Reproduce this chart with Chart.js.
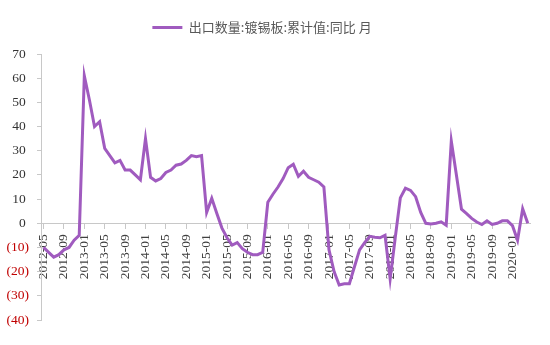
<!DOCTYPE html>
<html>
<head>
<meta charset="utf-8">
<script src="https://cdn.jsdelivr.net/npm/chart.js@4"></script>
<style>
  html, body { margin: 0; padding: 0; background: #fff; }
  #wrap { width: 550px; height: 345px; }
</style>
</head>
<body>
<div id="wrap"><canvas id="myChart"></canvas></div>
<script>
// monthly, 2012-05 .. 2020-04
const months = [];
for (let y = 2012; y <= 2020; y++) {
  for (let m = 1; m <= 12; m++) {
    if (y === 2012 && m < 5) continue;
    if (y === 2020 && m > 4) continue;
    months.push(y + '-' + String(m).padStart(2, '0'));
  }
}

const seriesName = '出口数量:镀锡板:累计值:同比 月';

const yoy2012 = [-10, -12, -14, -13, -11, -10, -7, -5];
const yoy2013 = [61, 51, 40, 42, 31, 28, 25, 26, 22, 22, 20, 18];
const yoy2014 = [35, 19, 17.5, 18.5, 21, 22, 24, 24.5, 26, 28, 27.5, 28];
const yoy2015 = [4.5, 10.3, 4, -2, -6, -9, -8, -10.5, -12, -13, -13, -12];
const yoy2016 = [8.7, 12, 15, 18.5, 23, 24.4, 19.4, 21.5, 19, 18, 17, 15];
const yoy2017 = [-11, -20, -25.5, -25, -25, -18, -11, -8, -5.4, -5.8, -6, -5];
const yoy2018 = [-23, -6, 10.5, 14.5, 13.6, 11, 4.5, 0, -0.3, 0, 0.6, -0.8];
const yoy2019 = [34, 20, 5.8, 4, 2, 0.5, -0.5, 1, -0.5, 0, 1, 1];
const yoy2020 = [-1, -7, 6, 0];

const values = [].concat(yoy2012, yoy2013, yoy2014, yoy2015, yoy2016,
  yoy2017, yoy2018, yoy2019, yoy2020);

const yTicks = [70, 60, 50, 40, 30, 20, 10, 0, -10, -20, -30, -40];

const purple = '#a05bbf';
const serif = "'Liberation Serif', 'Times New Roman', serif";

// extra room under the legend, and nudge it a bit to the left
const legendGap = {
  id: 'legendGap',
  beforeUpdate(chart) {
    const lg = chart.legend;
    if (lg && !lg._gapPatched) {
      const fit = lg.fit;
      lg.fit = function () {
        fit.call(this);
        this.height += 10;
      };
      lg._gapPatched = true;
    }
  },
  afterLayout(chart) {
    const lg = chart.legend;
    if (lg) {
      lg.left -= 12;
      lg.right -= 12;
    }
  },
};

const ctx = document.getElementById('myChart').getContext('2d');
const myChart = new Chart(ctx, {
  type: 'line',
  data: {
    labels: months,
    datasets: [
      {
        label: seriesName,
        data: values,
        borderColor: purple,
        backgroundColor: purple,
        borderWidth: 3,
        pointRadius: 0,
        tension: 0,
      },
    ],
  },
  plugins: [legendGap],
  options: {
    responsive: true,
    maintainAspectRatio: false,
    animation: false,
    layout: {
      padding: { top: 8, left: 6, right: 8, bottom: 25 },
    },
    plugins: {
      legend: {
        position: 'top',
        labels: {
          boxWidth: 30,
          boxHeight: 3,
          padding: 13,
          color: '#595959',
          font: { family: "'Noto Sans CJK SC', sans-serif", size: 13 },
          generateLabels(chart) {
            const items = Chart.defaults.plugins.legend.labels.generateLabels(chart);
            items.forEach((it) => {
              it.lineWidth = 0;
              it.fillStyle = purple;
            });
            return items;
          },
        },
      },
      tooltip: { enabled: false },
    },
    scales: {
      x: {
        position: { y: 0 },
        offset: true,
        border: { color: '#c8c8c8', width: 1 },
        grid: {
          drawOnChartArea: false,
          tickLength: 5,
          color: (c) => (c.index % 4 === 0 ? '#c8c8c8' : 'rgba(0,0,0,0)'),
        },
        ticks: {
          autoSkip: false,
          maxRotation: 90,
          minRotation: 90,
          padding: 6,
          color: '#404040',
          font: { family: serif, size: 13.5 },
          callback(value, index) {
            return index % 4 === 0 ? months[index] : '';
          },
        },
      },
      y: {
        min: -40,
        max: 70,
        border: { color: '#c8c8c8', width: 1 },
        grid: { drawOnChartArea: false, tickLength: 4, color: '#c8c8c8' },
        afterBuildTicks(scale) {
          scale.ticks = yTicks.map((v) => ({ value: v }));
        },
        afterFit(scale) {
          scale.width = 35;
        },
        ticks: {
          padding: 8,
          font: { family: serif, size: 13.5 },
          color: (c) => (c.tick && c.tick.value < 0 ? '#c00000' : '#333333'),
          callback(value) {
            return value < 0 ? '(' + (-value) + ')' : value + ' ';
          },
        },
      },
    },
  },
});
</script>
</body>
</html>
